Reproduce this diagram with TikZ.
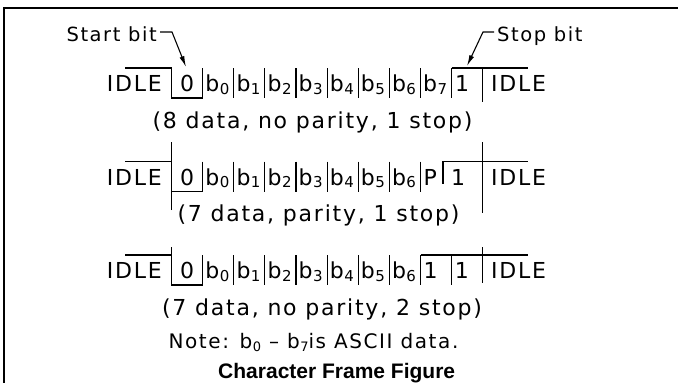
\documentclass[tikz,border=0pt]{standalone}
\usepackage{fontspec}
\usepackage{tikz}
\usetikzlibrary{arrows.meta}
\newfontfamily\cadfont{DejaVu Sans}[LetterSpace=8]
\newfontfamily\titlefont{Liberation Sans}
\newcommand{\bsub}[2][15]{b\kern0.5pt\raisebox{-2.5pt}{\fontsize{#1}{#1}\selectfont #2}}

\tikzset{
  wire/.style={line width=1.1pt},
  cad/.style={inner sep=0pt, font=\cadfont\fontsize{22}{25}\selectfont},
  bitlbl/.style={cad, anchor=base west},
  pointer/.style={wire, -{Latex[length=11pt,width=5pt]}},
}

\begin{document}
\begin{tikzpicture}[x=1pt, y=-1pt]
\useasboundingbox (0,0) rectangle (678,383);
% frame
\draw[line width=2pt] (678,8) -- (4,8) -- (4,383);

% start and stop labels
\node[cad, font=\cadfont\fontsize{19.5}{23}\selectfont, anchor=base east] (startlbl) at (157,41) {Start bit};
\node[cad, font=\cadfont\fontsize{19.5}{23}\selectfont, anchor=base west] (stoplbl) at (497,41) {Stop bit};
\coordinate (startFoot) at (160,32);
\coordinate (startBend) at (172,32);
\coordinate (startTip) at (186,67);
\coordinate (stopFoot) at (494,32);
\coordinate (stopBend) at (483,32);
\coordinate (stopTip) at (467,66);
\draw[pointer] (startFoot) -- (startBend) -- (startTip);
\draw[pointer] (stopFoot) -- (stopBend) -- (stopTip);

% 8 data, no parity
\begin{scope}[shift={(0,68)}]
\draw[wire] (125,0) -- (171.6,0) -- (171.6,30) -- (202.7,30);
\foreach \k in {1,...,9} \draw[wire] (171.6+31.1*\k,0) -- ++(0,30);
\draw[wire] (451.6,0) -- (528,0);
\draw[wire] (482.7,0) -- (482.7,33.7);
\node[cad, anchor=base east] (idleA) at (162,23.5) {IDLE};
\node[cad, anchor=base] (zeroA) at (187.1,23.5) {0};
\foreach \k in {0,...,7} \node[bitlbl] (bitA\k) at (205.2+31.1*\k,23.5) {\bsub{\k}};
\node[bitlbl] (stopA) at (455,23.5) {1};
\node[bitlbl] (idleAr) at (491,23.5) {IDLE};
\end{scope}
\node[cad, anchor=base] (capA) at (312.5,128) {(8 data, no parity, 1 stop)};

% 7 data, parity
\begin{scope}[shift={(0,161.5)}]
\draw[wire] (125,0) -- (171.6,0);
\draw[wire] (171.6,-19.5) -- (171.6,30) -- (202.7,30);
\draw[wire] (171.6,48.5) -- (171.6,30);
\foreach \k in {1,...,8} \draw[wire] (171.6+31.1*\k,0) -- ++(0,30);
\draw[wire] (443,22) -- (443,0) -- (528,0);
\draw[wire] (482.7,-19.5) -- (482.7,51.5);
\node[cad, anchor=base east] (idleB) at (162,23.5) {IDLE};
\node[cad, anchor=base] (zeroB) at (187.1,23.5) {0};
\foreach \k in {0,...,6} \node[bitlbl] (bitB\k) at (205.2+31.1*\k,23.5) {\bsub{\k}};
\node[bitlbl] (parB) at (423.5,23.5) {P};
\node[bitlbl] (stopB) at (451,23.5) {1};
\node[bitlbl] (idleBr) at (491,23.5) {IDLE};
\end{scope}
\node[cad, anchor=base] (capB) at (318.5,221.5) {(7 data, parity, 1 stop)};

% 7 data, 2 stop
\begin{scope}[shift={(0,255)}]
\draw[wire] (125,0) -- (171.6,0);
\draw[wire] (171.6,-8) -- (171.6,30) -- (202.7,30);
\foreach \k in {1,...,9} \draw[wire] (171.6+31.1*\k,0) -- ++(0,30);
\draw[wire] (420.5,0) -- (528,0);
\draw[wire] (482.7,-8) -- (482.7,28);
\node[cad, anchor=base east] (idleC) at (162,23.5) {IDLE};
\node[cad, anchor=base] (zeroC) at (187.1,23.5) {0};
\foreach \k in {0,...,6} \node[bitlbl] (bitC\k) at (205.2+31.1*\k,23.5) {\bsub{\k}};
\node[bitlbl] (stopC) at (423.5,23.5) {1};
\node[bitlbl] (stopCC) at (454.6,23.5) {1};
\node[bitlbl] (idleCr) at (491,23.5) {IDLE};
\end{scope}
\node[cad, anchor=base] (capC) at (322,315) {(7 data, no parity, 2 stop)};

\node[cad, font=\cadfont\fontsize{20}{23}\selectfont, anchor=base] (note) at (313.5,348.7) {Note: \bsub[13]{0} – \bsub[13]{7}is ASCII data.};
\node[inner sep=0pt, font=\titlefont\bfseries\fontsize{21}{24}\selectfont, anchor=base] (title) at (336.7,378) {Character Frame Figure};
\end{tikzpicture}
\end{document}
